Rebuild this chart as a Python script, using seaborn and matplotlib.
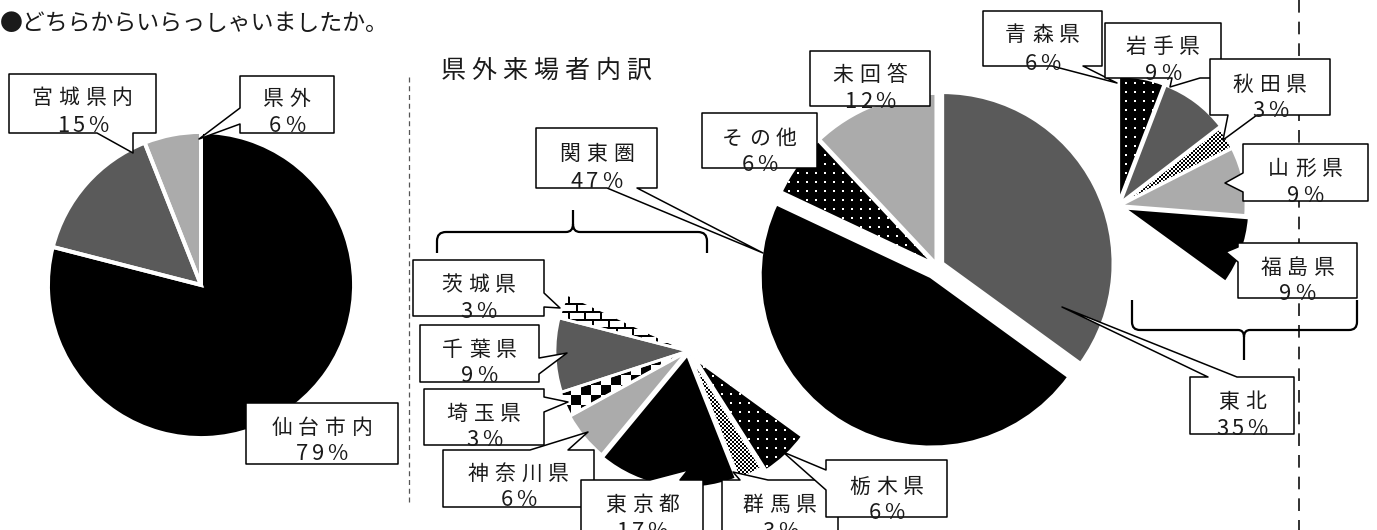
import numpy as np
import matplotlib
matplotlib.use("Agg")
import matplotlib.pyplot as plt
import seaborn as sns
from matplotlib.patches import Polygon, Rectangle, PathPatch
from matplotlib.path import Path
from matplotlib.font_manager import FontProperties

# ---- data: share of visitors (%) ----
origin_labels = ["仙台市内", "宮城県内", "県外"]
origin_pct = [79, 15, 6]

outside_labels = ["東北", "関東圏", "その他", "未回答"]
outside_pct = [35, 47, 6, 12]

tohoku_labels = ["青森県", "岩手県", "秋田県", "山形県", "福島県"]
tohoku_pct = [6, 9, 3, 9, 9]

kanto_labels = ["栃木県", "群馬県", "東京都", "神奈川県", "埼玉県", "千葉県", "茨城県"]
kanto_pct = [6, 3, 17, 6, 3, 9, 3]

title = "●どちらからいらっしゃいましたか。"
subtitle = "県外来場者内訳"

# ---- styles ----
origin_style = ["black", "dark", "light"]
outside_style = ["dark", "black", "dots", "light"]
tohoku_style = ["dots", "dark", "fine", "light", "black"]
kanto_style = ["dots", "fine", "black", "light", "checker", "dark", "brick"]

W, H = 1377, 530
FONT = "Noto Sans CJK JP"
TXT = "#1a1a1a"
BASE = {"black": "#000000", "dark": "#5a5a5a", "light": "#ababab",
        "dots": "#000000", "fine": "white", "checker": "white", "brick": "white",
        None: "none"}

sns.set_theme(style="white")
plt.rcParams["font.family"] = [FONT, "DejaVu Sans"]

fig = plt.figure(figsize=(W / 100, H / 100), dpi=100)
fig.patch.set_facecolor("white")
ax = fig.add_axes([0, 0, 1, 1])
renderer = fig.canvas.get_renderer()


def texture(kind, n):
    i, j = np.mgrid[0:n, 0:n]
    if kind == "dots":
        return ((i % 9 < 2) & (j % 9 < 2)).astype(float)
    if kind == "checker":
        return ((i // 10 + j // 10) % 2).astype(float)
    if kind == "fine":
        return ((i // 2 + j // 2) % 2).astype(float)
    # brick
    row = i // 8
    line = (i % 8 < 2) | ((j + (row % 2) * 8) % 16 < 2)
    return 1.0 - line.astype(float)


def draw_pie(values, center, radius, styles, explode, lw):
    cx, cy = center[0], H - center[1]
    faces = [BASE[s] for s in styles]
    kw = dict(center=(cx, cy), radius=radius, startangle=90,
              counterclock=False, explode=explode)
    wedges, _ = ax.pie(values, colors=faces,
                       wedgeprops=dict(linewidth=0, zorder=1), **kw)
    rims, _ = ax.pie(values, colors=faces,
                     wedgeprops=dict(fill=False, edgecolor="white",
                                     linewidth=lw, zorder=3), **kw)
    for w, r, s in zip(wedges, rims, styles):
        if s is None:
            w.set_visible(False)
            r.set_visible(False)
            continue
        if s in ("dots", "fine", "checker", "brick"):
            wx, wy = round(w.center[0]), round(w.center[1])
            n = int(radius) + 3
            im = ax.imshow(texture(s, 2 * n), cmap="gray", vmin=0, vmax=1,
                           interpolation="nearest",
                           extent=(wx - n, wx + n, wy - n, wy + n), zorder=2)
            im.set_clip_path(w)


def spaced(cx, cy, s, size, gap, clip=None, z=5):
    fp = FontProperties(family=[FONT, "DejaVu Sans"], size=size)
    ws = [renderer.get_text_width_height_descent(c, fp, ismath=False)[0] for c in s]
    total = sum(ws) + gap * (len(s) - 1)
    x = cx - total / 2
    base = H - (cy + 0.38 * size * 100 / 72)
    for c, w in zip(s, ws):
        t = ax.text(x + w / 2, base, c, fontproperties=fp, ha="center",
                    va="baseline", color=TXT, zorder=z)
        if clip is not None:
            t.set_clip_path(clip)
        x += w + gap


def callout(k, box, name, pct, name_y, pct_y, pointer=None, size=15):
    x0, y0, x1, y1 = box
    edges = [("top", (x0, y0)), ("right", (x1, y0)),
             ("bottom", (x1, y1)), ("left", (x0, y1))]
    pts = []
    for side, corner in edges:
        pts.append(corner)
        if pointer and pointer[0] == side:
            _, a, b, tip = pointer
            lo, hi = min(a, b), max(a, b)
            if side == "top":
                pts += [(lo, y0), tip, (hi, y0)]
            elif side == "right":
                pts += [(x1, lo), tip, (x1, hi)]
            elif side == "bottom":
                pts += [(hi, y1), tip, (lo, y1)]
            else:
                pts += [(x0, hi), tip, (x0, lo)]
    z = 4 + 0.01 * k
    ax.add_patch(Polygon([(x, H - y) for x, y in pts], closed=True, fc="white",
                         ec="black", lw=1.1, zorder=z, joinstyle="round"))
    clip = Rectangle((x0 + 1, H - y1 + 1), x1 - x0 - 2, y1 - y0 - 2,
                     transform=ax.transData)
    cx = (x0 + x1) / 2
    spaced(cx, name_y, name, size, 6, clip, z + 0.005)
    spaced(cx, pct_y, pct, size + 0.8, 3.5, clip, z + 0.005)


def brace(points, codes):
    verts = [(x, H - y) for x, y in points]
    ax.add_patch(PathPatch(Path(verts, codes), fc="none", ec="black",
                           lw=1.6, zorder=3))


# ---- pies ----
draw_pie(origin_pct, (201, 285), 153, origin_style, [0, 0, 0], 2.8)
draw_pie(outside_pct, (937, 266), 171, outside_style, [6, 12, 2, 2], 2.6)

t_scale = outside_pct[0] / sum(tohoku_pct)
tohoku_vals = [v * t_scale for v in tohoku_pct] + [100 - outside_pct[0]]
draw_pie(tohoku_vals, (1118, 206), 126, tohoku_style + [None],
         [4, 4, 2, 2, 6, 0], 2.0)

k_scale = outside_pct[1] / sum(kanto_pct)
kanto_vals = ([outside_pct[0]] + [v * k_scale for v in kanto_pct]
              + [outside_pct[2] + outside_pct[3]])
draw_pie(kanto_vals, (688, 351), 133, [None] + kanto_style + [None],
         [0, 10, 5, 4, 2, 1, 0, 0, 0], 2.0)

# ---- separators & braces ----
ax.plot([409, 409], [H - 77, H - 505], color="#555555", lw=0.9,
        ls=(0, (4, 3)), zorder=0)
ax.plot([1299, 1299], [H, 0], color="#222222", lw=1.3,
        ls=(0, (7, 5)), zorder=0)

M, L, C = Path.MOVETO, Path.LINETO, Path.CURVE3
brace([(437, 253), (437, 241), (437, 232), (446, 232), (566, 232),
       (573, 232), (573, 224), (573, 210),
       (573, 224), (573, 232), (580, 232), (698, 232), (707, 232),
       (707, 241), (707, 253)],
      [M, L, C, C, L, C, C, L, M, C, C, L, C, C, L])
brace([(1132, 300), (1132, 322), (1132, 330), (1140, 330), (1238, 330),
       (1244, 330), (1244, 337), (1244, 360),
       (1244, 337), (1244, 330), (1250, 330), (1349, 330), (1357, 330),
       (1357, 322), (1357, 300)],
      [M, L, C, C, L, C, C, L, M, C, C, L, C, C, L])

# ---- titles ----
ax.text(0, H - 24, title, fontsize=16.5, ha="left", va="center", color=TXT)
spaced(546, 68, subtitle, 18, 6)

# ---- callout labels ----
LAYOUT = {
    "仙台市内": ((246, 403, 398, 464), 426, 452, None),
    "宮城県内": ((9, 74, 156, 133), 96, 124, ("bottom", 97, 133, (133, 153))),
    "県外": ((240, 76, 334, 133), 97, 124, ("left", 108, 124, (199, 139))),
    "関東圏": ((536, 128, 657, 188), 152, 180, ("bottom", 607, 637, (763, 253))),
    "その他": ((702, 113, 817, 168), 137, 163, None),
    "未回答": ((810, 51, 930, 106), 73, 100, None),
    "東北": ((1190, 377, 1294, 434), 400, 427, ("top", 1208, 1237, (1062, 307))),
    "青森県": ((983, 11, 1102, 66), 33, 62, ("bottom", 1052, 1083, (1117, 83))),
    "岩手県": ((1105, 23, 1221, 78), 45, 72, ("bottom", 1172, 1200, (1170, 87))),
    "秋田県": ((1210, 59, 1330, 115), 83, 109, ("bottom", 1228, 1257, (1223, 140))),
    "山形県": ((1243, 144, 1368, 201), 167, 194, ("left", 173, 192, (1225, 183))),
    "福島県": ((1238, 243, 1357, 298), 266, 292, ("left", 247, 262, (1226, 252))),
    "茨城県": ((413, 260, 544, 316), 283, 310, ("right", 293, 307, (560, 308))),
    "千葉県": ((420, 325, 539, 382), 348, 374, ("right", 358, 374, (567, 353))),
    "埼玉県": ((424, 389, 544, 445), 412, 438, ("right", 397, 412, (568, 402))),
    "神奈川県": ((443, 450, 594, 507), 472, 498, ("top", 530, 568, (588, 432))),
    "東京都": ((581, 480, 703, 545), 503, 530, ("top", 650, 680, (688, 470))),
    "群馬県": ((722, 480, 838, 545), 503, 530, ("top", 740, 768, (733, 472))),
    "栃木県": ((826, 460, 947, 517), 485, 511, ("left", 470, 490, (783, 452))),
}

all_labels = origin_labels + outside_labels + tohoku_labels + kanto_labels
all_pct = origin_pct + outside_pct + tohoku_pct + kanto_pct
pct_of = dict(zip(all_labels, all_pct))
for k, (name, (box, ny, py, ptr)) in enumerate(LAYOUT.items()):
    callout(k, box, name, f"{pct_of[name]}%", ny, py, ptr)

ax.set_xlim(0, W)
ax.set_ylim(0, H)
ax.set_aspect("auto")
ax.axis("off")
fig.savefig("out.png", dpi=100, facecolor="white")
